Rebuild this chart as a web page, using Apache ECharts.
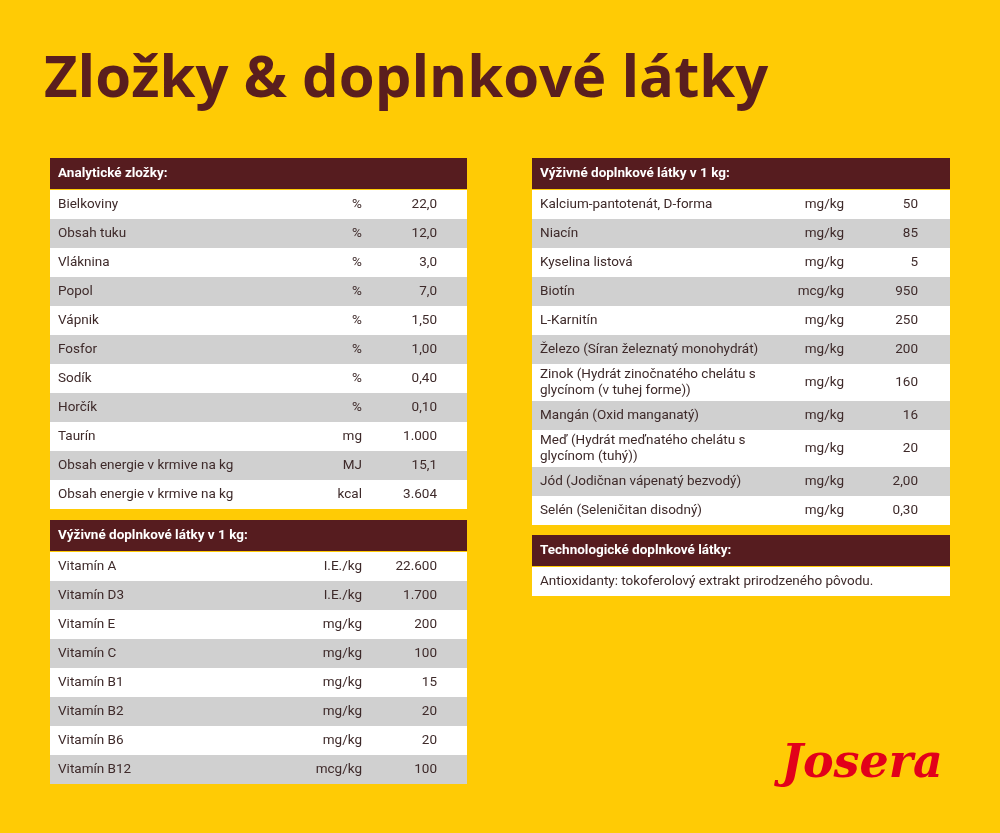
<!DOCTYPE html>
<html><head><meta charset="utf-8">
<script src="https://cdn.jsdelivr.net/npm/echarts@6/dist/echarts.min.js"></script>
<style>html,body{margin:0;padding:0;background:#FFCB05}#main{width:1000px;height:833px}</style>
</head><body><div id="main"></div>
<script>
var analytickeNames = ['Bielkoviny','Obsah tuku','Vláknina','Popol','Vápnik','Fosfor','Sodík','Horčík','Taurín','Obsah energie v krmive na kg','Obsah energie v krmive na kg'];
var analytickeUnits = ['%','%','%','%','%','%','%','%','mg','MJ','kcal'];
var analytickeValues = ['22,0','12,0','3,0','7,0','1,50','1,00','0,40','0,10','1.000','15,1','3.604'];

var vitaminNames = ['Vitamín A','Vitamín D3','Vitamín E','Vitamín C','Vitamín B1','Vitamín B2','Vitamín B6','Vitamín B12'];
var vitaminUnits = ['I.E./kg','I.E./kg','mg/kg','mg/kg','mg/kg','mg/kg','mg/kg','mcg/kg'];
var vitaminValues = ['22.600','1.700','200','100','15','20','20','100'];

var doplnkyNames = ['Kalcium-pantotenát, D-forma','Niacín','Kyselina listová','Biotín','L-Karnitín','Železo (Síran železnatý monohydrát)','Zinok (Hydrát zinočnatého chelátu s\nglycínom (v tuhej forme))','Mangán (Oxid manganatý)','Meď (Hydrát meďnatého chelátu s\nglycínom (tuhý))','Jód (Jodičnan vápenatý bezvodý)','Selén (Seleničitan disodný)'];
var doplnkyUnits = ['mg/kg','mg/kg','mg/kg','mcg/kg','mg/kg','mg/kg','mg/kg','mg/kg','mg/kg','mg/kg','mg/kg'];
var doplnkyValues = ['50','85','5','950','250','200','160','16','20','2,00','0,30'];

var techNames = ['Antioxidanty: tokoferolový extrakt prirodzeného pôvodu.'];

var HEAD = '#561c1f', GRAY = '#d0d0d0', TXT = '#3e2a2a', FONT = 'Roboto, Liberation Sans, sans-serif';
var elements = [];

function table(x, y, w, title, names, units, values, unitX, valX) {
  elements.push({type:'rect', shape:{x:x, y:y, width:w, height:31}, style:{fill:HEAD}});
  elements.push({type:'text', x:x+8, y:y+15.5, style:{text:title, fill:'#fff', font:'bold 13.5px '+FONT, textVerticalAlign:'middle'}});
  var cy = y + 32;
  names.forEach(function (n, i) {
    var h = n.indexOf('\n') >= 0 ? 37 : 29;
    elements.push({type:'rect', shape:{x:x, y:cy, width:w, height:h}, style:{fill: i % 2 ? GRAY : '#fff'}});
    elements.push({type:'text', x:x+8, y:cy+h/2, style:{text:n, fill:TXT, font:'13.5px '+FONT, textVerticalAlign:'middle', lineHeight:16}});
    if (units) {
      elements.push({type:'text', x:x+unitX, y:cy+h/2, style:{text:units[i], fill:TXT, font:'13.5px '+FONT, textAlign:'right', textVerticalAlign:'middle'}});
      elements.push({type:'text', x:x+valX, y:cy+h/2, style:{text:values[i], fill:TXT, font:'13.5px '+FONT, textAlign:'right', textVerticalAlign:'middle'}});
    }
    cy += h;
  });
}

table(50, 158, 417, 'Analytické zložky:', analytickeNames, analytickeUnits, analytickeValues, 312, 387);
table(50, 520, 417, 'Výživné doplnkové látky v 1 kg:', vitaminNames, vitaminUnits, vitaminValues, 312, 387);
table(532, 158, 418, 'Výživné doplnkové látky v 1 kg:', doplnkyNames, doplnkyUnits, doplnkyValues, 312, 386);
table(532, 535, 418, 'Technologické doplnkové látky:', techNames, null, null);

elements.push({type:'text', x:44, y:80, style:{text:'Zložky & doplnkové látky', fill:'#5a1e1e', font:'bold 58px "Open Sans", sans-serif', textVerticalAlign:'middle'}});
elements.push({type:'text', x:862, y:765, style:{text:'Josera', fill:'#e2001a', font:'italic bold 46px "DejaVu Serif", serif', textAlign:'center', textVerticalAlign:'middle'}});

var myChart = echarts.init(document.getElementById('main'));
myChart.setOption({ backgroundColor:'#FFCB05', graphic: elements });
</script></body></html>
